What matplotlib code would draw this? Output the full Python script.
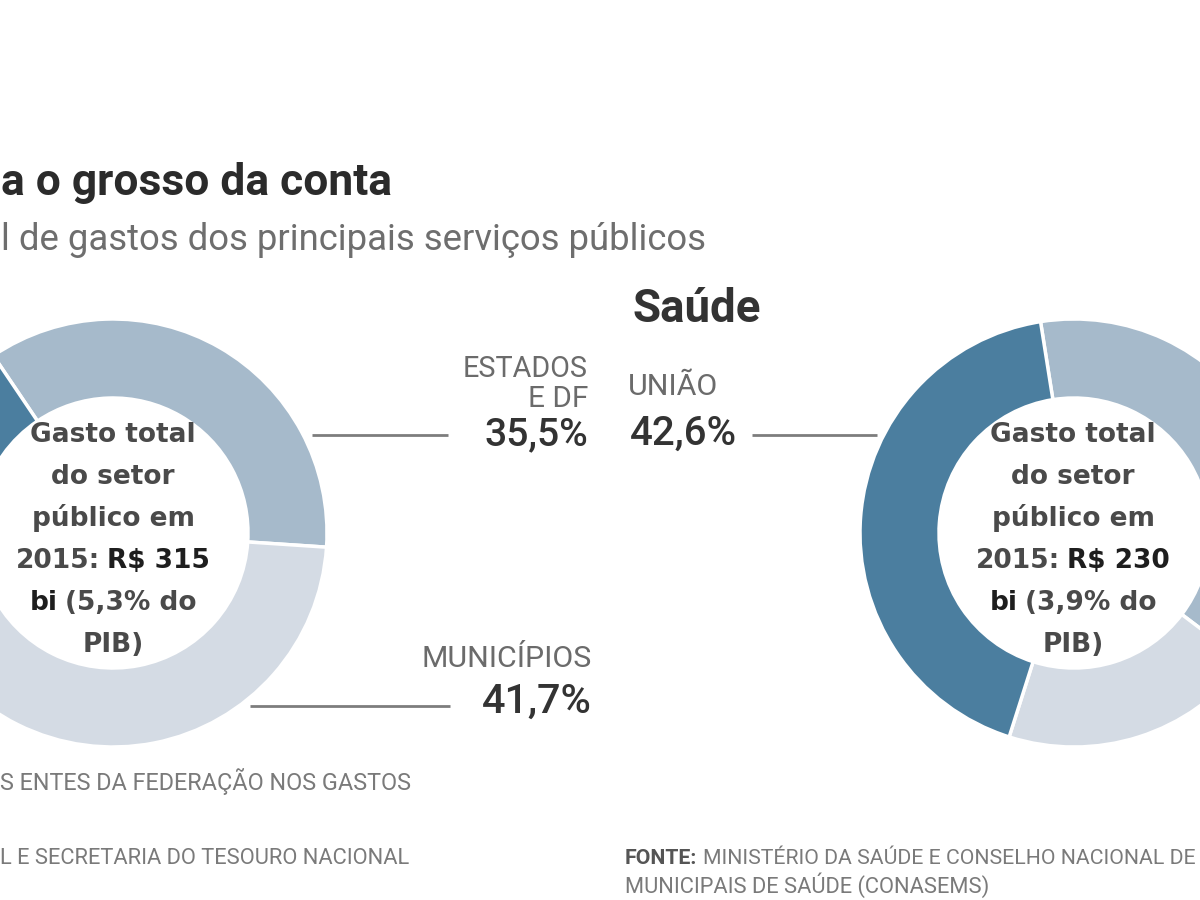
import matplotlib
matplotlib.use("Agg")
import matplotlib.pyplot as plt
from matplotlib import font_manager


def pick(names, fallback="DejaVu Sans"):
    for name in names:
        try:
            font_manager.findfont(name, fallback_to_default=False)
            return name
        except ValueError:
            pass
    return fallback


NARROW = pick(["Liberation Sans Narrow", "Roboto", "Liberation Sans"])
plt.rcParams["font.family"] = [NARROW, "DejaVu Sans"]

# shares of each level of government (%), order: Estados e DF, Municípios, União
segments = ["Estados e DF", "Municípios", "União"]
educacao_vals = [35.5, 41.7, 22.8]
saude_vals = [37.8, 19.6, 42.6]
seg_colors = ["#a6bacb", "#d4dbe4", "#4b7e9f"]

center_educacao = ["Gasto total", "do setor", "público em", ("2015:", "R$ 315"), ("bi", "(5,3% do"), "PIB)"]
center_saude = ["Gasto total", "do setor", "público em", ("2015:", "R$ 230"), ("bi", "(3,9% do"), "PIB)"]

W, H = 1200, 900
fig = plt.figure(figsize=(12, 9), dpi=100)
ax = fig.add_axes([0, 0, 1, 1])


def Y(y):
    return H - y


ring = dict(width=79, edgecolor="white", linewidth=2.5)
ax.pie(educacao_vals, colors=seg_colors, startangle=124, counterclock=False,
       radius=214, center=(113, Y(533)), wedgeprops=ring)
ax.pie(saude_vals, colors=seg_colors, startangle=99, counterclock=False,
       radius=214, center=(1074, Y(533)), wedgeprops=ring)
ax.set_xlim(0, W)
ax.set_ylim(0, H)
ax.set_aspect("equal")
ax.axis("off")

fig.canvas.draw()
rend = fig.canvas.get_renderer()


def fit(t, width):
    w = t.get_window_extent(rend).width
    t.set_fontsize(t.get_fontsize() * width / w)
    return t


def label(x, y, s, width, ha="left", **kw):
    t = ax.text(x, Y(y), s, ha=ha, va="baseline", fontsize=20, **kw)
    return fit(t, width)


# headline (cropped in the source image)
label(1, 195, "a o grosso da conta", 389, fontweight="bold", color="#2b2b2b")
label(1, 250, "l de gastos dos principais serviços públicos", 704, color="#6e6e6e")
label(632, 322, "Saúde", 128, fontweight="bold", color="#333333")

# segment labels
label(588, 377, "ESTADOS", 125, ha="right", color="#6b6b6b")
label(588, 407, "E DF", 60, ha="right", color="#6b6b6b")
label(588, 445, "35,5%", 104, ha="right", color="#333333", fontweight="medium")
label(592, 667, "MUNICÍPIOS", 170, ha="right", color="#6b6b6b")
label(592, 713, "41,7%", 110, ha="right", color="#333333", fontweight="medium")
label(628, 395, "UNIÃO", 90, color="#6b6b6b")
label(630, 445, "42,6%", 107, color="#333333", fontweight="medium")

for x0, x1, y in [(312, 448, 435), (752, 877, 435), (250, 450, 706)]:
    ax.plot([x0, x1], [Y(y), Y(y)], color="#7d7d7d", lw=2, solid_capstyle="butt")


def mixed(parts, xc, y, size):
    texts = [ax.text(0, Y(y), s, fontsize=size, fontweight="bold", color=c,
                     ha="left", va="baseline", family="DejaVu Sans")
             for s, c in parts]
    widths = [t.get_window_extent(rend).width for t in texts]
    gap = size * 0.35
    x = xc - (sum(widths) + gap * (len(texts) - 1)) / 2
    for t, w in zip(texts, widths):
        t.set_x(x)
        x += w + gap


def center_block(lines, xc):
    for i, line in enumerate(lines):
        y = 442 + 42 * i
        if isinstance(line, tuple):
            if i == 3:
                parts = [(line[0], "#4a4a4a"), (line[1], "#1e1e1e")]
            else:
                parts = [(line[0], "#1e1e1e"), (line[1], "#4a4a4a")]
        else:
            parts = [(line, "#4a4a4a")]
        mixed(parts, xc, y, 19)


center_block(center_educacao, 113)
center_block(center_saude, 1073)

# footer notes (cropped in the source image)
label(0, 790, "S ENTES DA FEDERAÇÃO NOS GASTOS", 412, color="#7a7a7a")
label(0, 864, "L E SECRETARIA DO TESOURO NACIONAL", 410, color="#7a7a7a")
src = label(625, 864, "FONTE:", 72, fontweight="bold", color="#555555")
label(703, 864, "MINISTÉRIO DA SAÚDE E CONSELHO NACIONAL DE", 494, color="#7a7a7a")
label(625, 893, "MUNICIPAIS DE SAÚDE (CONASEMS)", 365, color="#7a7a7a")

fig.savefig("out.png", dpi=100, facecolor="white")
